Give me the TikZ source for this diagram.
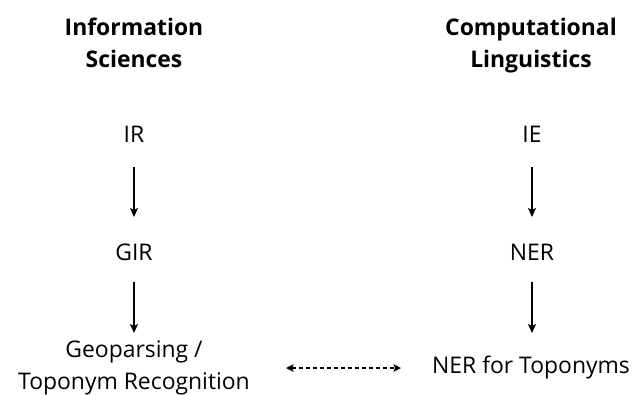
\documentclass[tikz,border=0pt]{standalone}
\usepackage{fontspec}
\setmainfont{Open Sans}
\usetikzlibrary{arrows.meta,calc}

\tikzset{
  heading/.style={font=\fontsize{23}{32}\selectfont\bfseries, align=center, anchor=base, inner sep=0pt},
  term/.style={font=\fontsize{23}{32}\selectfont, align=center, anchor=base, inner sep=0pt},
  flow/.style={line width=1.4bp, -{Stealth[length=9bp,width=8bp,inset=2bp]}},
  relate/.style={line width=1.6bp, dash pattern=on 4bp off 3bp,
    {Stealth[length=7.5bp,width=7.5bp,inset=1.5bp]}-{Stealth[length=7.5bp,width=7.5bp,inset=1.5bp]}}
}

\begin{document}
\begin{tikzpicture}[x=1bp, y=-1bp]
  \useasboundingbox (0,0) rectangle (633,394);

  % column headings (base anchor sits on the last line)
  \node[heading] (infosci) at (134,67) {Information\\Sciences};
  \node[heading] (complin) at (531,67) {Computational\\Linguistics};

  % left column
  \node[term] (ir)  at (134,142) {IR};
  \node[term] (gir) at (134,260) {GIR};
  \node[term] (geo) at (134,389) {Geoparsing /\\Toponym Recognition};

  % right column
  \node[term] (ie)   at (532,142) {IE};
  \node[term] (ner)  at (532,260) {NER};
  \node[term] (nert) at (531,373) {NER for Toponyms};

  % vertical progressions (kept strictly vertical)
  \draw[flow, shorten <=25bp, shorten >=43bp] (ir.base) -- (ir.base |- gir.base);
  \draw[flow, shorten <=22bp, shorten >=56bp] (gir.base) -- (gir.base |- geo.base);
  \draw[flow, shorten <=25bp, shorten >=43bp] (ie.base) -- (ie.base |- ner.base);
  \draw[flow, shorten <=22bp, shorten >=40bp] (ner.base) -- (ner.base |- nert.base);

  % correspondence between the two bottom tasks
  \coordinate (link) at ($(nert.base)+(0,-5)$);
  \draw[relate] (286,0 |- link) coordinate (la) -- (401,0 |- link) coordinate (lb);
\end{tikzpicture}
\end{document}
